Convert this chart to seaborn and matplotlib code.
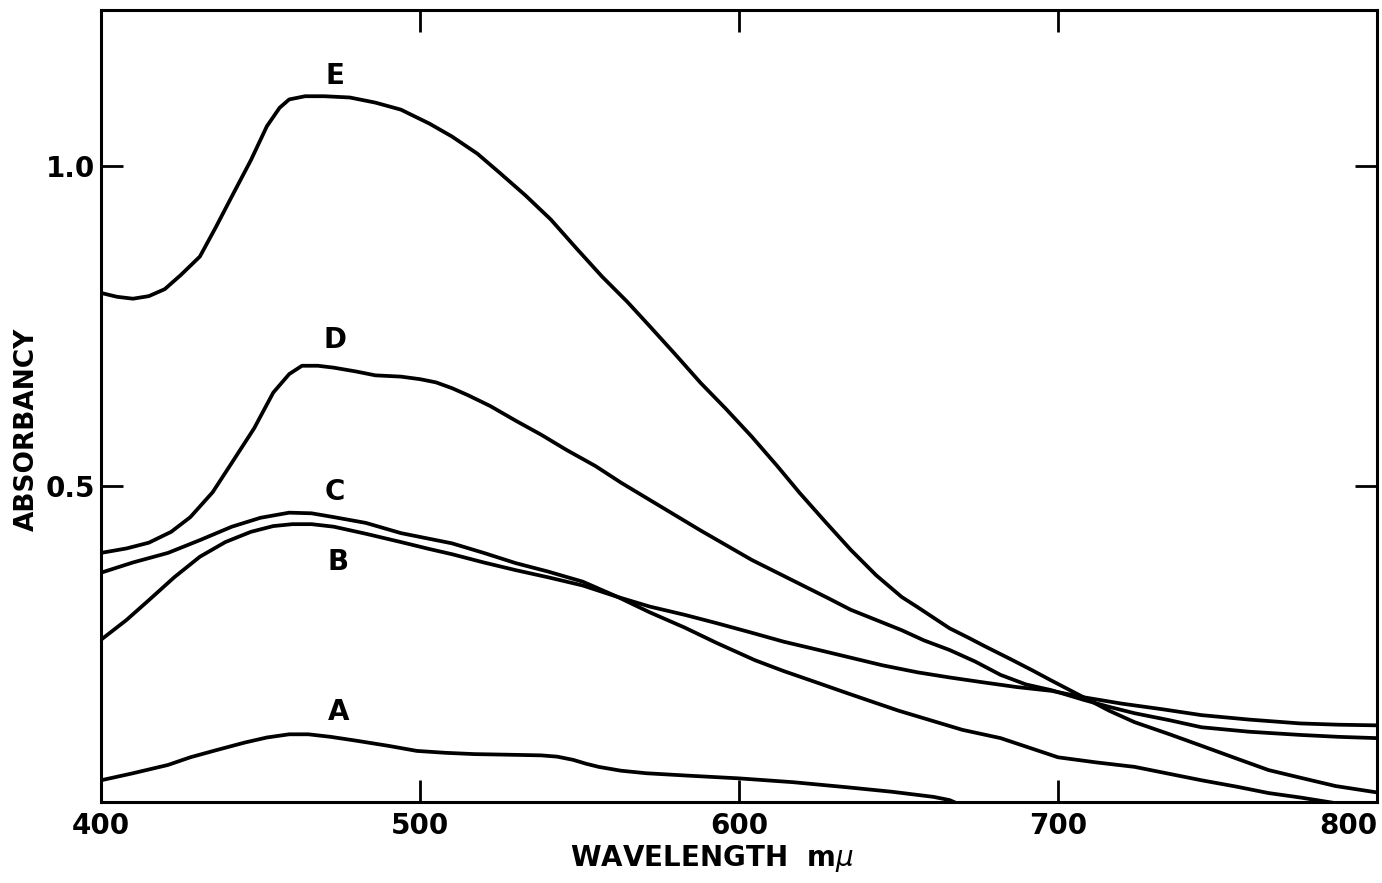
import matplotlib
matplotlib.use("Agg")
import matplotlib.pyplot as plt
import numpy as np
import pandas as pd
import seaborn as sns

# Absorption spectra, wavelength in m\u03bc, absorbancy (dimensionless)
wl_a = [400, 410, 421, 428, 436, 445, 452, 459, 465, 472, 480, 490, 499, 508, 517, 528,
        538, 543, 548, 552, 556, 563, 571, 585, 600, 617, 634, 648, 661, 666, 672]
ab_a = [0.039, 0.050, 0.063, 0.075, 0.086, 0.098, 0.106, 0.111, 0.111, 0.107, 0.101, 0.093,
        0.085, 0.082, 0.080, 0.079, 0.078, 0.076, 0.071, 0.065, 0.060, 0.054, 0.050, 0.046,
        0.042, 0.036, 0.028, 0.021, 0.013, 0.008, -0.005]

wl_b = [400, 408, 415, 423, 431, 439, 447, 454, 460, 466, 473, 483, 494, 503, 510, 520, 530,
        540, 551, 562, 572, 583, 593, 604, 614, 625, 635, 645, 656, 666, 677, 687, 698, 708,
        720, 733, 745, 760, 776, 788, 800]
ab_b = [0.259, 0.290, 0.321, 0.357, 0.389, 0.412, 0.428, 0.437, 0.440, 0.440, 0.436, 0.425,
        0.412, 0.401, 0.393, 0.380, 0.368, 0.357, 0.344, 0.326, 0.311, 0.298, 0.285, 0.270,
        0.256, 0.243, 0.231, 0.219, 0.208, 0.200, 0.192, 0.185, 0.179, 0.169, 0.159, 0.150,
        0.141, 0.134, 0.128, 0.126, 0.125]

wl_c = [400, 410, 421, 431, 441, 450, 459, 466, 473, 483, 494, 503, 510, 520, 530, 540, 551,
        562, 572, 583, 593, 605, 614, 625, 633, 640, 650, 660, 670, 682, 691, 700, 712, 724,
        735, 745, 756, 766, 776, 786, 800]
ab_c = [0.364, 0.380, 0.395, 0.415, 0.436, 0.450, 0.458, 0.457, 0.451, 0.442, 0.426, 0.417,
        0.410, 0.395, 0.379, 0.366, 0.350, 0.326, 0.302, 0.278, 0.254, 0.227, 0.210, 0.191,
        0.177, 0.165, 0.148, 0.133, 0.118, 0.105, 0.090, 0.075, 0.067, 0.060, 0.049, 0.039,
        0.029, 0.019, 0.012, 0.004, -0.010]

wl_d = [400, 408, 415, 422, 428, 435, 441, 448, 454, 459, 463, 468, 473, 480, 486, 494, 500,
        505, 510, 515, 522, 530, 538, 546, 555, 563, 572, 580, 588, 596, 604, 612, 620, 628,
        635, 643, 651, 658, 666, 674, 682, 690, 698, 708, 716, 724, 735, 745, 760, 776, 788,
        800]
ab_d = [0.395, 0.402, 0.411, 0.428, 0.451, 0.490, 0.536, 0.590, 0.646, 0.675, 0.688, 0.688,
        0.685, 0.679, 0.673, 0.671, 0.667, 0.662, 0.653, 0.642, 0.625, 0.602, 0.580, 0.556,
        0.531, 0.505, 0.478, 0.454, 0.430, 0.407, 0.384, 0.364, 0.344, 0.324, 0.306, 0.290,
        0.274, 0.258, 0.243, 0.225, 0.204, 0.189, 0.180, 0.165, 0.154, 0.144, 0.133, 0.122,
        0.115, 0.110, 0.107, 0.105]

wl_e = [400, 405, 410, 415, 420, 425, 431, 436, 441, 447, 452, 456, 459, 464, 470, 478, 486,
        494, 503, 510, 518, 525, 533, 541, 549, 557, 565, 572, 580, 588, 596, 604, 612, 619,
        627, 635, 643, 651, 656, 666, 672, 677, 685, 692, 698, 708, 716, 724, 735, 745, 756,
        766, 776, 787, 800]
ab_e = [0.802, 0.796, 0.793, 0.797, 0.808, 0.830, 0.859, 0.905, 0.953, 1.010, 1.063, 1.092,
        1.105, 1.110, 1.110, 1.108, 1.100, 1.089, 1.067, 1.047, 1.020, 0.990, 0.955, 0.917,
        0.872, 0.828, 0.788, 0.750, 0.706, 0.661, 0.620, 0.577, 0.531, 0.489, 0.444, 0.400,
        0.360, 0.326, 0.310, 0.277, 0.262, 0.249, 0.229, 0.211, 0.195, 0.169, 0.148, 0.130,
        0.111, 0.093, 0.073, 0.055, 0.043, 0.030, 0.020]

samples = ["A", "B", "C", "D", "E"]
x_ticks = [400, 500, 600, 700, 800]
y_ticks = [0.5, 1.0]
y_tick_labels = ["0.5", "1.0"]

series = {"A": (wl_a, ab_a), "B": (wl_b, ab_b), "C": (wl_c, ab_c),
          "D": (wl_d, ab_d), "E": (wl_e, ab_e)}
df = pd.concat(
    [pd.DataFrame({"wavelength": w, "absorbancy": a, "sample": s})
     for s, (w, a) in series.items()],
    ignore_index=True,
)

sns.set_theme(style="white")
plt.rcParams["font.family"] = ["DejaVu Sans"]
plt.rcParams["mathtext.fontset"] = "dejavusans"

W, H = 1382, 883
fig = plt.figure(figsize=(W / 100, H / 100), dpi=100)
fig.patch.set_facecolor("white")
ax = fig.add_axes([101 / W, 1 - 802 / H, 1276 / W, 792 / H])

sns.lineplot(data=df, x="wavelength", y="absorbancy", hue="sample",
             palette=["black"] * len(samples), hue_order=samples,
             estimator=None, sort=False, legend=False, linewidth=2.7, ax=ax)
for ln in ax.get_lines():
    ln.set_solid_joinstyle("round")
    ln.set_solid_capstyle("round")

ax.set_xlim(400, 800)
ax.set_ylim(0.005, 1.245)

for sp in ax.spines.values():
    sp.set_visible(True)
    sp.set_color("black")
    sp.set_linewidth(2.2)

ax.set_xticks(x_ticks)
ax.set_xticklabels([str(t) for t in x_ticks])
ax.set_yticks(y_ticks)
ax.set_yticklabels(y_tick_labels)
ax.tick_params(axis="both", direction="in", length=16, width=2.0, color="black",
               top=True, right=True, bottom=True, left=True,
               labelsize=20, labelcolor="black")
ax.tick_params(axis="x", pad=7)
ax.tick_params(axis="y", pad=4)
for lab in ax.get_xticklabels() + ax.get_yticklabels():
    lab.set_fontweight("bold")
    if lab.get_text() == "800":
        lab.set_horizontalalignment("right")

# Curve identifiers
label_pos = {"E": (473.4, 1.141), "D": (473.4, 0.729), "C": (473.4, 0.491),
             "B": (474.4, 0.381), "A": (474.4, 0.146)}
for s in samples:
    x, y = label_pos[s]
    ax.text(x, y, s, ha="center", va="center", fontsize=20, fontweight="bold",
            color="black")

ax.set_xlabel("WAVELENGTH  m$\\mu$", fontsize=20, fontweight="bold", color="black")
ax.xaxis.set_label_coords(0.479, -0.052)
ax.xaxis.label.set_verticalalignment("top")
ax.set_ylabel("ABSORBANCY", fontsize=19, fontweight="bold", color="black")
ax.yaxis.set_label_coords(-0.048, 0.47)

ax.grid(False)
fig.savefig("out.png", dpi=100, facecolor="white")
